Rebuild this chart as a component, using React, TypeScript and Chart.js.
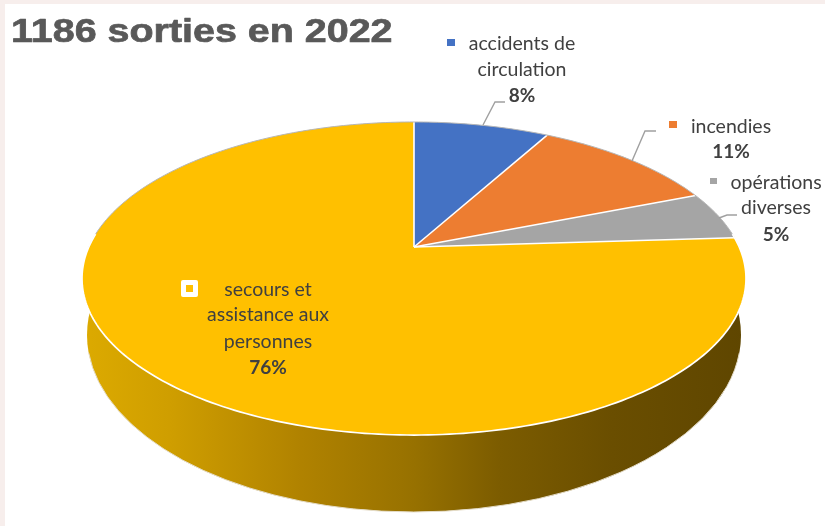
import React, { useEffect, useRef } from "react";
import { Chart, registerables } from "chart.js";

Chart.register(...registerables);

const titleText = "1186 sorties en 2022";
const categories = ["accidents de circulation", "incendies", "opérations diverses", "secours et assistance aux personnes"];
const values = [8, 11, 5, 76];
const colours = ["#4472c4", "#ed7d31", "#a5a5a5", "#ffc000"];
const labelLines = [["accidents de", "circulation"], ["incendies"], ["opérations", "diverses"], ["secours et", "assistance aux", "personnes"]];
const labelCentres = [522, 731, 776, 268];
const labelBaselines = [[50, 76, 102], [133, 158], [189, 214, 241], [296, 321, 348, 374]];
const keyBoxes = [[447, 39, 8, 7], [669, 121, 8, 7], [710, 178, 7, 6], [186, 285, 7, 7]];
const leaders = [
  [[483, 125], [495, 102], [505, 102]],
  [[632, 161], [645, 131], [656, 131]],
  [[719, 218], [727, 215], [737, 215]],
];

// Tilted-disc projection
const CX = 414, CY = 247, PERSP = 0.2013, SY = 150.2, SX = 325.2;
const project = (a: number): [number, number] => {
  const u = Math.cos(a), v = -Math.sin(a);
  const d = 1 + PERSP * v;
  return [CX + (SX * u) / d, CY - (SY * v) / d];
};

const tiltedPie = {
  id: "tiltedPie",
  beforeDatasetDraw(chart: any) {
    const ctx = chart.ctx as CanvasRenderingContext2D;
    const arcs = chart.getDatasetMeta(0).data;
    ctx.save();

    // side wall
    const grad = ctx.createLinearGradient(84, 0, 744, 0);
    grad.addColorStop(0, "#dcaa00");
    grad.addColorStop(0.13, "#cf9e00");
    grad.addColorStop(0.33, "#b08200");
    grad.addColorStop(0.5, "#977100");
    grad.addColorStop(0.63, "#7c5c00");
    grad.addColorStop(0.8, "#6a4e00");
    grad.addColorStop(1, "#5f4600");
    ctx.beginPath();
    ctx.ellipse(414, 335, 327, 177, 0, 0, Math.PI * 2);
    ctx.fillStyle = grad;
    ctx.fill();
    ctx.beginPath();
    ctx.ellipse(414, 335, 327, 177, 0, 0.1, Math.PI - 0.1);
    ctx.strokeStyle = "#e4dcc8";
    ctx.lineWidth = 1;
    ctx.stroke();

    // top face
    arcs.forEach((arc: any, i: number) => {
      const { startAngle, endAngle } = arc.getProps(["startAngle", "endAngle"], true);
      ctx.beginPath();
      ctx.moveTo(CX, CY);
      const steps = Math.ceil(((endAngle - startAngle) * 180) / Math.PI);
      for (let s = 0; s <= steps; s++) {
        const [x, y] = project(startAngle + ((endAngle - startAngle) * s) / steps);
        ctx.lineTo(x, y);
      }
      ctx.closePath();
      ctx.fillStyle = colours[i];
      ctx.fill();
    });
    // white radial separators
    ctx.strokeStyle = "#ffffff";
    ctx.lineWidth = 1.6;
    arcs.forEach((arc: any) => {
      const [x, y] = project(arc.startAngle);
      ctx.beginPath();
      ctx.moveTo(CX, CY);
      ctx.lineTo(x, y);
      ctx.stroke();
    });
    // rim: grey on the far edge, white on the near edge
    const rim = (from: number, to: number, colour: string, w: number) => {
      ctx.beginPath();
      for (let d = from; d <= to; d++) {
        const [x, y] = project((d * Math.PI) / 180);
        if (d === from) ctx.moveTo(x, y);
        else ctx.lineTo(x, y);
      }
      ctx.strokeStyle = colour;
      ctx.lineWidth = w;
      ctx.stroke();
    };
    rim(180, 360, "#b5b5b5", 1);
    rim(-5, 185, "#ffffff", 1.7);

    // leaders
    ctx.strokeStyle = "#a0a0a0";
    ctx.lineWidth = 1.4;
    leaders.forEach((pts) => {
      ctx.beginPath();
      pts.forEach(([x, y], k) => (k ? ctx.lineTo(x, y) : ctx.moveTo(x, y)));
      ctx.stroke();
    });

    // labels
    ctx.textAlign = "center";
    ctx.textBaseline = "alphabetic";
    values.forEach((v, i) => {
      const base = labelBaselines[i];
      ctx.fillStyle = "#404040";
      ctx.font = "19.5px Lato";
      labelLines[i].forEach((line, k) => ctx.fillText(line, labelCentres[i], base[k]));
      ctx.font = "bold 19px Lato";
      ctx.fillText(`${v}%`, labelCentres[i], base[labelLines[i].length]);
      const [kx, ky, kw, kh] = keyBoxes[i];
      if (i === 3) {
        ctx.beginPath();
        ctx.roundRect(kx - 5, ky - 5, kw + 10, kh + 10, 2);
        ctx.fillStyle = "#ffffff";
        ctx.fill();
      }
      ctx.fillStyle = colours[i];
      ctx.fillRect(kx, ky, kw, kh);
    });

    // title
    ctx.save();
    ctx.translate(11, 42);
    ctx.scale(1.16, 1);
    ctx.textAlign = "left";
    ctx.font = "bold 34px 'Liberation Sans'";
    ctx.fillStyle = "#595959";
    ctx.strokeStyle = "#595959";
    ctx.lineWidth = 0.7;
    ctx.lineJoin = "round";
    ctx.fillText(titleText, 0, 0);
    ctx.strokeText(titleText, 0, 0);
    ctx.restore();

    ctx.restore();
    return false;
  },
};

export default function App() {
  const ref = useRef<HTMLCanvasElement>(null);
  useEffect(() => {
    const chart = new Chart(ref.current!, {
      type: "pie",
      data: {
        labels: categories,
        datasets: [{ data: values, backgroundColor: colours }],
      },
      options: {
        responsive: false,
        animation: false,
        plugins: { legend: { display: false }, tooltip: { enabled: false }, title: { display: false } },
      },
      plugins: [tiltedPie],
    } as any);
    return () => chart.destroy();
  }, []);
  return (
    <div style={{ position: "absolute", left: 0, top: 0, width: 825, height: 526, background: "#f7eeec", overflow: "hidden" }}>
      <div style={{ position: "absolute", left: 5, top: 4, width: 820, height: 522, background: "#ffffff" }} />
      <canvas ref={ref} width={825} height={526} style={{ position: "absolute", left: 0, top: 0, display: "block" }} />
    </div>
  );
}
